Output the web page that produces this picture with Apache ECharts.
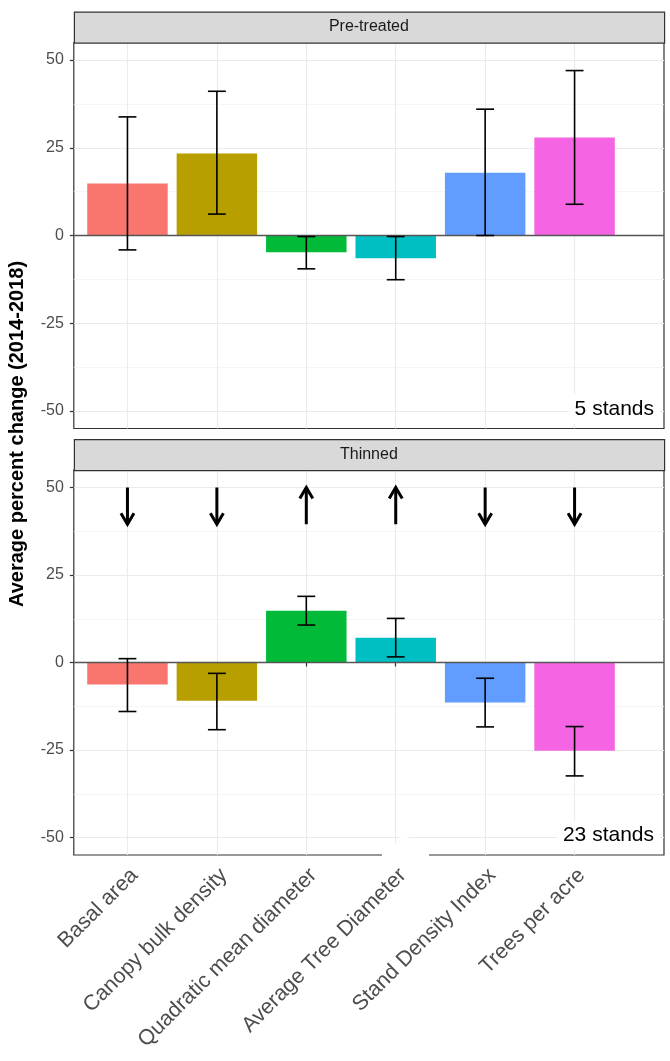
<!DOCTYPE html>
<html><head><meta charset="utf-8">
<script src="https://cdn.jsdelivr.net/npm/echarts@6/dist/echarts.min.js"></script>
<style>html,body{margin:0;padding:0;background:#fff}#c{width:670px;height:1061px}</style>
</head><body><div id="c"></div>
<script>
const categories = ['Basal area','Canopy bulk density','Quadratic mean diameter','Average Tree Diameter','Stand Density Index','Trees per acre'];
const colors = ['#F8766D','#B79F00','#00BA38','#00BFC4','#619CFF','#F564E3'];
const panels = ['Pre-treated','Thinned'];
const preMean = [14.8, 23.4, -4.8, -6.5, 17.9, 27.9];
const preLow  = [-4.1, 6.1, -9.5, -12.6, 0.0, 8.9];
const preHigh = [33.8, 41.1, -0.3, -0.3, 36.0, 47.0];
const thinMean = [-6.3, -10.9, 14.8, 7.1, -11.4, -25.2];
const thinLow  = [-14.0, -19.2, 10.7, 1.6, -18.4, -32.4];
const thinHigh = [1.1, -3.1, 18.9, 12.6, -4.5, -18.3];
const arrowDir = ['down','down','up','up','down','down'];
const arrowTop = 50, arrowBottom = 39.5;
const standLabels = ['5 stands','23 stands'];
const yTicks = [-50,-25,0,25,50];
const yMinor = [-37.5,-12.5,12.5,37.5];
const xTicks = [1,2,3,4,5,6];

const FONT = '"Liberation Sans", Arial, sans-serif';
const chart = echarts.init(document.getElementById('c'), null, {renderer:'canvas'});

const gridL = 73.8, gridW = 590.2;
const grids = [{top:42.5, height:386},{top:470, height:385}];
const stripH = 31;
const labelNudge = 0.08;

function xAxisFor(i){
  const bottom = i === 1;
  return {
    gridIndex:i, type:'value', min:0.4, max:7.0,
    axisLine:{show:false},
    axisTick:{show:bottom, customValues:xTicks, length:4, lineStyle:{color:'#333', width:1.2}},
    axisLabel:{show:bottom, customValues:xTicks.map(v=>v+labelNudge), rotate:45, margin:17, fontSize:21.5, color:'#4d4d4d', fontFamily:FONT,
      formatter:function(v){ return categories[Math.round(v)-1] || ''; }},
    splitLine:{show:true, lineStyle:{color:'#ebebeb', width:1.1}}
  };
}
function yAxisFor(i){
  return {
    gridIndex:i, type:'value', min:-55, max:55,
    axisLine:{show:false},
    axisTick:{show:true, customValues:yTicks, length:4, lineStyle:{color:'#333', width:1.2}},
    axisLabel:{customValues:yTicks, fontSize:16, color:'#4d4d4d', fontFamily:FONT, margin:10},
    splitLine:{show:true, lineStyle:{color:'#ebebeb', width:1.1}}
  };
}
function yMinorFor(i){
  return {
    gridIndex:i, type:'value', min:-55, max:55, position:'left',
    axisLine:{show:false},
    axisTick:{show:false, customValues:yMinor},
    axisLabel:{show:false, customValues:yMinor},
    splitLine:{show:true, lineStyle:{color:'#f3f3f3', width:0.8}}
  };
}

function barSeries(i, means){
  return {
    type:'custom', xAxisIndex:i, yAxisIndex:i*2, z:3,
    data: means.map((m,k)=>[xTicks[k], m, k]),
    encode:{x:0, y:1},
    renderItem:function(params, api){
      const x = api.value(0), y = api.value(1), k = api.value(2);
      const p0 = api.coord([x-0.45, 0]);
      const p1 = api.coord([x+0.45, y]);
      return {type:'rect', shape:{x:p0[0], y:Math.min(p0[1],p1[1]), width:p1[0]-p0[0], height:Math.abs(p1[1]-p0[1])},
        style:{fill:colors[k]}};
    }
  };
}
function zeroSeries(i){
  return {
    type:'custom', xAxisIndex:i, yAxisIndex:i*2, z:4, silent:true,
    data:[[0.4,0]], encode:{x:0,y:1},
    renderItem:function(params, api){
      const a = api.coord([0.4,0]), b = api.coord([7.0,0]);
      return {type:'line', shape:{x1:a[0], y1:a[1], x2:b[0], y2:b[1]}, style:{stroke:'#555', lineWidth:1.3}};
    }
  };
}
function errSeries(i, lows, highs){
  return {
    type:'custom', xAxisIndex:i, yAxisIndex:i*2, z:5,
    data: lows.map((l,k)=>[xTicks[k], l, highs[k]]),
    encode:{x:0, y:[1,2]},
    renderItem:function(params, api){
      const x = api.value(0);
      const lo = api.coord([x, api.value(1)]), hi = api.coord([x, api.value(2)]);
      const cl = api.coord([x-0.1, api.value(1)]), cr = api.coord([x+0.1, api.value(1)]);
      const st = {stroke:'#000', lineWidth:1.6};
      return {type:'group', children:[
        {type:'line', shape:{x1:lo[0], y1:lo[1], x2:hi[0], y2:hi[1]}, style:st},
        {type:'line', shape:{x1:cl[0], y1:lo[1], x2:cr[0], y2:lo[1]}, style:st},
        {type:'line', shape:{x1:cl[0], y1:hi[1], x2:cr[0], y2:hi[1]}, style:st}
      ]};
    }
  };
}
function arrowSeries(i){
  return {
    type:'custom', xAxisIndex:i, yAxisIndex:i*2, z:5,
    data: arrowDir.map((d,k)=>[xTicks[k], arrowTop, arrowBottom, d==='up'?1:-1]),
    encode:{x:0, y:[1,2]},
    renderItem:function(params, api){
      const x = api.value(0), dir = api.value(3);
      const t = api.coord([x, api.value(1)]), b = api.coord([x, api.value(2)]);
      const tip = dir>0 ? t : b;
      const s = dir>0 ? 1 : -1;
      const hl = 11, hw = 6.5;
      const st = {stroke:'#000', lineWidth:3, fill:null, lineJoin:'miter', lineCap:'butt'};
      return {type:'group', children:[
        {type:'line', shape:{x1:t[0], y1:t[1]+(dir>0?1:0), x2:b[0], y2:b[1]-(dir<0?1:0)}, style:st},
        {type:'polyline', shape:{points:[[tip[0]-hw, tip[1]+s*hl],[tip[0], tip[1]],[tip[0]+hw, tip[1]+s*hl]]}, style:st}
      ]};
    }
  };
}
function labelSeries(i){
  return {
    type:'custom', xAxisIndex:i, yAxisIndex:i*2, z:6, clip:false,
    data:[[7.0, -50]], encode:{x:0,y:1},
    renderItem:function(params, api){
      const p = api.coord([api.value(0), api.value(1)]);
      return {type:'text', x:p[0]-4, y:p[1]-2, style:{text:standLabels[i], fill:'#000', font:'21px '+FONT,
        align:'right', verticalAlign:'middle', backgroundColor:'#fff', padding:[4,6,4,6]}};
    }
  };
}

const graphics = [];
panels.forEach((name,i)=>{
  const g = grids[i];
  graphics.push({type:'rect', left:gridL, top:g.top-stripH, z:10,
    shape:{width:gridW, height:stripH}, style:{fill:'#d9d9d9', stroke:'#333', lineWidth:1.2}});
  graphics.push({type:'text', x:gridL+gridW/2, y:g.top-stripH/2, z:11,
    style:{text:name, fill:'#1a1a1a', font:'16px '+FONT, align:'center', verticalAlign:'middle'}});
});
graphics.push({type:'text', x:17, y:434, rotation:Math.PI/2, z:11,
  style:{text:'Average percent change (2014-2018)', fill:'#000', font:'bold 20px '+FONT, align:'center', verticalAlign:'middle'}});
graphics.push({type:'polygon', z:20, shape:{points:[[382,854],[390,850],[396,843],[402,836],[408,837],[414,845],[420,851],[429,854],[429,862],[382,862]]},
  style:{fill:'#fff'}});

chart.setOption({
  backgroundColor:'#fff',
  animation:false,
  grid: grids.map(g=>({left:gridL, width:gridW, top:g.top, height:g.height, show:true, borderColor:'#333', borderWidth:1.2, backgroundColor:'transparent'})),
  xAxis:[xAxisFor(0), xAxisFor(1)],
  yAxis:[yAxisFor(0), yMinorFor(0), yAxisFor(1), yMinorFor(1)],
  series:[
    barSeries(0, preMean), zeroSeries(0), errSeries(0, preLow, preHigh), labelSeries(0),
    barSeries(1, thinMean), zeroSeries(1), errSeries(1, thinLow, thinHigh), arrowSeries(1), labelSeries(1)
  ],
  graphic: graphics
});
</script></body></html>
